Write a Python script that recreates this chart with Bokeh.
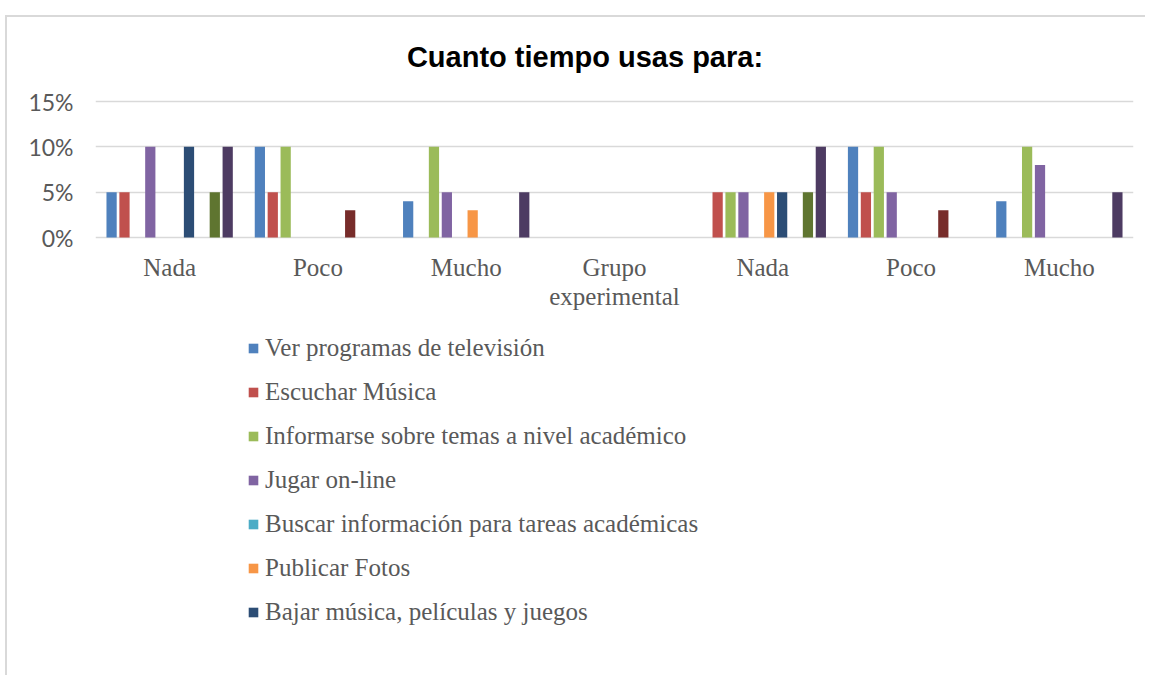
from bokeh.plotting import figure
from bokeh.models import FixedTicker, NumeralTickFormatter, Legend, LegendItem, Range1d
from bokeh.core.properties import value
from bokeh.embed import file_html
from bokeh.resources import INLINE

# ---- data ----
title_text = "Cuanto tiempo usas para:"
categories = ["Nada", "Poco", "Mucho", "Grupo\nexperimental", "Nada", "Poco", "Mucho"]
series_names = [
    "Ver programas de televisión",
    "Escuchar Música",
    "Informarse sobre temas a nivel académico",
    "Jugar on-line",
    "Buscar información para tareas académicas",
    "Publicar Fotos",
    "Bajar música, películas y juegos",
    "Serie 8",
    "Serie 9",
    "Serie 10",
]
ver_tv = [0.05, 0.10, 0.04, 0.0, 0.0, 0.10, 0.04]
escuchar_musica = [0.05, 0.05, 0.0, 0.0, 0.05, 0.05, 0.0]
informarse = [0.0, 0.10, 0.10, 0.0, 0.05, 0.10, 0.10]
jugar_online = [0.10, 0.0, 0.05, 0.0, 0.05, 0.05, 0.08]
buscar_info = [0.0, 0.0, 0.0, 0.0, 0.0, 0.0, 0.0]
publicar_fotos = [0.0, 0.0, 0.03, 0.0, 0.05, 0.0, 0.0]
bajar_musica = [0.10, 0.0, 0.0, 0.0, 0.05, 0.0, 0.0]
serie_8 = [0.0, 0.03, 0.0, 0.0, 0.0, 0.03, 0.0]
serie_9 = [0.05, 0.0, 0.0, 0.0, 0.05, 0.0, 0.0]
serie_10 = [0.10, 0.0, 0.05, 0.0, 0.10, 0.0, 0.05]
y_ticks = [0.0, 0.05, 0.10, 0.15]

series_values = [ver_tv, escuchar_musica, informarse, jugar_online, buscar_info,
                 publicar_fotos, bajar_musica, serie_8, serie_9, serie_10]
colors = ["#4F81BD", "#C0504D", "#9BBB59", "#8064A2", "#4BACC6",
          "#F79646", "#2C4D75", "#772C2A", "#5F7530", "#4D3B62"]
n_legend = 7

# layout: 0.15 of value axis spans 136 px; frame covers canvas so text can sit in it
px_per_unit = 136 / 0.15
y_top = 220 / px_per_unit
y_bottom = -440 / px_per_unit

p = figure(width=1140, height=660, output_backend="svg", toolbar_location=None,
           x_range=Range1d(0, len(categories)), y_range=Range1d(y_bottom, y_top),
           x_axis_location=None,
           min_border_left=88, min_border_right=14, min_border_top=0, min_border_bottom=0)
p.styles = {"border-left": "2px solid #D9D9D9", "border-top": "2px solid #D9D9D9",
            "margin-left": "5px", "margin-top": "15px"}
p.outline_line_color = None
p.background_fill_color = "white"
p.border_fill_color = "white"
p.xgrid.visible = False
p.xgrid.grid_line_color = None

slot = 0.087
nser = len(series_values)
renderers = []
for k, vals in enumerate(series_values):
    xs = [i + 0.5 + (k - (nser - 1) / 2) * slot for i in range(len(categories))]
    r = p.vbar(x=xs, top=vals, bottom=0, width=0.069, fill_color=colors[k], line_color=None)
    renderers.append(r)

# y axis
p.yaxis.ticker = FixedTicker(ticks=y_ticks)
p.yaxis.formatter = NumeralTickFormatter(format="0%")
p.yaxis.axis_line_color = None
p.yaxis.major_tick_line_color = None
p.yaxis.minor_tick_line_color = None
p.yaxis.major_label_text_font = "Lato"
p.yaxis.major_label_text_font_size = "23px"
p.yaxis.major_label_text_color = "#595959"
p.yaxis.major_label_standoff = 16

p.ygrid.grid_line_color = "#D9D9D9"
p.ygrid.grid_line_width = 1.5

# category labels
p.text(x=[i + 0.5 for i in range(len(categories))], y=[-16 / px_per_unit] * len(categories),
       text=categories, text_align="center", text_baseline="top",
       text_font=value("Liberation Serif"), text_font_size="25px",
       text_color="#595959", text_line_height=1.08)

# title
p.text(x=[(584.5 - 95) / 148.29], y=[181 / px_per_unit], text=[title_text],
       text_align="center", text_baseline="middle",
       text_font=value("Liberation Sans"), text_font_style="bold",
       text_font_size="29px", text_color="black")

# legend
items = [LegendItem(label=series_names[k], renderers=[renderers[k]]) for k in range(n_legend)]
legend = Legend(items=items, location=(152, 50), orientation="vertical",
                padding=0, margin=0, border_line_color=None, background_fill_alpha=0,
                label_text_font="Liberation Serif", label_text_font_size="25px",
                label_text_color="#595959", glyph_width=12, glyph_height=12,
                label_height=30, spacing=14, label_standoff=6)
p.add_layout(legend, "center")

open("out.html", "w").write(file_html(p, INLINE))
